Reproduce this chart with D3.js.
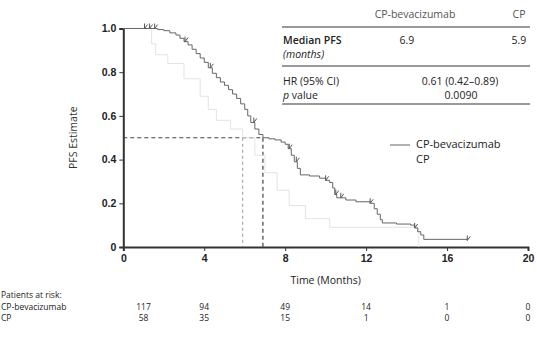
<!DOCTYPE html>
<html>
<head>
<meta charset="utf-8">
<script src="https://cdn.jsdelivr.net/npm/d3@7"></script>
<style>
  body { margin: 0; background: #fff; }
  svg { font-family: "Open Sans", "Noto Sans", sans-serif; }
  .tick text { font-size: 10.5px; font-weight: 600; fill: #222; }
</style>
</head>
<body>
<svg id="chart"></svg>
<script>
'use strict'

const width = 537, height = 339

// data
const xTicks = [0, 4, 8, 12, 16, 20]
const yTicks = [0, 0.2, 0.4, 0.6, 0.8, 1.0]

const bevTime = [0, 1.3, 1.7, 2.0, 2.3, 2.6, 2.8, 3.0, 3.2, 3.4, 3.6, 3.8, 4.0, 4.2, 4.4, 4.6, 4.8, 5.0, 5.2, 5.4, 5.6, 5.8, 6.0, 6.15, 6.3, 6.5, 6.7, 6.9,
  7.2, 7.5, 7.8, 8.0, 8.15, 8.3, 8.45, 8.6, 8.75, 9.2, 9.7, 10.0, 10.2, 10.35, 10.45, 10.55, 11.0, 11.5, 12.2, 12.4, 12.55, 12.7, 12.8,
  13.5, 14.2, 14.4, 14.55, 14.7, 14.85, 17.0]
const bevSurv = [1, 1, 0.995, 0.99, 0.98, 0.97, 0.955, 0.94, 0.925, 0.905, 0.885, 0.865, 0.845, 0.82, 0.795, 0.775, 0.755, 0.74, 0.72, 0.70, 0.68, 0.655, 0.63, 0.60, 0.57, 0.54, 0.515, 0.50,
  0.495, 0.49, 0.48, 0.47, 0.45, 0.42, 0.39, 0.36, 0.33, 0.325, 0.315, 0.305, 0.295, 0.27, 0.24, 0.225, 0.215, 0.207, 0.20, 0.175, 0.15, 0.125, 0.11,
  0.105, 0.10, 0.087, 0.07, 0.055, 0.035, 0.03]
const bevCensor = [1.05, 1.3, 1.55, 3.05, 4.3, 6.45, 8.2, 8.55, 10.0, 10.5, 10.75, 12.2, 14.4, 17.0]

const cpTime = [0, 1.2, 1.4, 1.6, 2.2, 3.0, 3.8, 4.2, 4.6, 5.3, 5.9, 6.5, 7.0, 7.6, 8.2, 9.0, 10.2, 14.6]
const cpSurv = [1, 1, 0.93, 0.88, 0.84, 0.77, 0.69, 0.63, 0.58, 0.54, 0.5, 0.42, 0.34, 0.26, 0.19, 0.13, 0.09, 0]

const medianBev = 6.9, medianCp = 5.9

const riskGroups = ["CP-bevacizumab", "CP"]
const riskBev = [117, 94, 49, 14, 1, 0]
const riskCp = [58, 35, 15, 1, 0, 0]

const svg = d3.select("#chart").attr("width", width).attr("height", height)

const x = d3.scaleLinear().domain([0, 20]).range([123.3, 528])
const y = d3.scaleLinear().domain([0, 1]).range([247, 28.5])

// axes
const gx = svg.append("g")
  .attr("transform", "translate(0," + y(0) + ")")
  .call(d3.axisBottom(x).tickValues(xTicks).tickSize(4).tickPadding(4))
gx.select(".domain").attr("stroke", "#333").attr("stroke-width", 2)
gx.selectAll(".tick line").attr("stroke", "#333")

const gy = svg.append("g")
  .attr("transform", "translate(" + x(0) + ",0)")
  .call(d3.axisLeft(y).tickValues(yTicks).tickSize(4).tickPadding(3)
    .tickFormat(d => d === 0 ? "0" : d.toFixed(1)))
gy.select(".domain").attr("stroke", "#333").attr("stroke-width", 2)
gy.selectAll(".tick line").attr("stroke", "#333")

svg.append("text")
  .attr("transform", "translate(74," + y(0.5) + ") rotate(-90)")
  .attr("text-anchor", "middle").attr("dominant-baseline", "middle")
  .style("font-size", "10.5px").style("fill", "#333")
  .text("PFS Estimate")

svg.append("text")
  .attr("x", x(10)).attr("y", 281)
  .attr("text-anchor", "middle").attr("dominant-baseline", "middle")
  .style("font-size", "10.5px").style("fill", "#222")
  .text("Time (Months)")

// median reference lines
svg.append("line")
  .attr("x1", x(0)).attr("x2", x(medianBev)).attr("y1", y(0.5)).attr("y2", y(0.5))
  .attr("stroke", "#444").attr("stroke-width", 1.2).attr("stroke-dasharray", "4,3")
svg.append("line")
  .attr("x1", x(medianBev)).attr("x2", x(medianBev)).attr("y1", y(0.5)).attr("y2", y(0))
  .attr("stroke", "#444").attr("stroke-width", 1.2).attr("stroke-dasharray", "4,3")
svg.append("line")
  .attr("x1", x(medianCp)).attr("x2", x(medianCp)).attr("y1", y(0.5)).attr("y2", y(0))
  .attr("stroke", "#999").attr("stroke-width", 1).attr("stroke-dasharray", "3,3")

// curves
const stepLine = d3.line().curve(d3.curveStepAfter).x(d => x(d[0])).y(d => y(d[1]))

svg.append("path")
  .datum(cpTime.map((t, i) => [t, cpSurv[i]]))
  .attr("d", stepLine)
  .attr("fill", "none").attr("stroke", "#e0e0e0").attr("stroke-width", 0.9)

svg.append("path")
  .datum(bevTime.map((t, i) => [t, bevSurv[i]]))
  .attr("d", stepLine)
  .attr("fill", "none").attr("stroke", "#666").attr("stroke-width", 1)

// survival value at time t on a step curve
const survAt = (times, survs, t) => {
  let s = survs[0]
  times.forEach((tt, i) => { if (tt <= t) s = survs[i] })
  return s
}

svg.append("g").selectAll("path")
  .data(bevCensor)
  .enter().append("path")
    .attr("d", t => {
      const px = x(t), py = y(survAt(bevTime, bevSurv, t))
      return "M" + px + "," + (py - 5) + "L" + px + "," + py + "L" + (px + 3) + "," + (py - 4)
    })
    .attr("fill", "none").attr("stroke", "#555").attr("stroke-width", 1)

// legend
svg.append("line")
  .attr("x1", 390).attr("x2", 410).attr("y1", 145).attr("y2", 145)
  .attr("stroke", "#666").attr("stroke-width", 1)
svg.selectAll(".legend")
  .data(riskGroups)
  .enter().append("text")
    .attr("x", 416).attr("y", (d, i) => 145 + i * 15.5)
    .attr("dominant-baseline", "middle")
    .style("font-size", "11px").style("fill", "#222")
    .text(d => d)

// summary table
const table = svg.append("g").style("font-size", "10.5px").style("fill", "#222")
const rule = yy => table.append("line")
  .attr("x1", 282).attr("x2", 530).attr("y1", yy).attr("y2", yy)
  .attr("stroke", "#777").attr("stroke-width", 1.3)
rule(27); rule(66); rule(104)

table.append("text").attr("x", 415).attr("y", 18).attr("text-anchor", "middle")
  .style("fill", "#555").text("CP-bevacizumab")
table.append("text").attr("x", 519).attr("y", 18).attr("text-anchor", "middle")
  .style("fill", "#555").text("CP")

table.append("text").attr("x", 283).attr("y", 44).style("font-weight", 600).text("Median PFS")
table.append("text").attr("x", 283).attr("y", 58).style("font-style", "italic").text("(months)")
table.append("text").attr("x", 407).attr("y", 44).attr("text-anchor", "middle").text(medianBev.toFixed(1))
table.append("text").attr("x", 519).attr("y", 44).attr("text-anchor", "middle").text(medianCp.toFixed(1))

table.append("text").attr("x", 283).attr("y", 85).text("HR (95% CI)")
const pv = table.append("text").attr("x", 283).attr("y", 99)
pv.append("tspan").style("font-style", "italic").text("p")
pv.append("tspan").text(" value")
table.append("text").attr("x", 460).attr("y", 85).attr("text-anchor", "middle").text("0.61 (0.42\u20130.89)")
table.append("text").attr("x", 461).attr("y", 99).attr("text-anchor", "middle").text("0.0090")

// patients at risk
const risk = svg.append("g").style("font-size", "8.5px").style("fill", "#222")
risk.append("text").attr("x", 1).attr("y", 296).attr("dominant-baseline", "middle").text("Patients at risk:")
const riskRows = [riskBev, riskCp]
riskRows.forEach((row, r) => {
  const ry = 308 + r * 11
  risk.append("text").attr("x", 1).attr("y", ry).attr("dominant-baseline", "middle").text(riskGroups[r])
  risk.selectAll(".r" + r)
    .data(row)
    .enter().append("text")
      .attr("x", (d, i) => i === 0 ? x(1.0) : x(xTicks[i]))
      .attr("y", ry)
      .attr("text-anchor", "middle").attr("dominant-baseline", "middle")
      .text(d => d)
})
</script>
</body>
</html>
